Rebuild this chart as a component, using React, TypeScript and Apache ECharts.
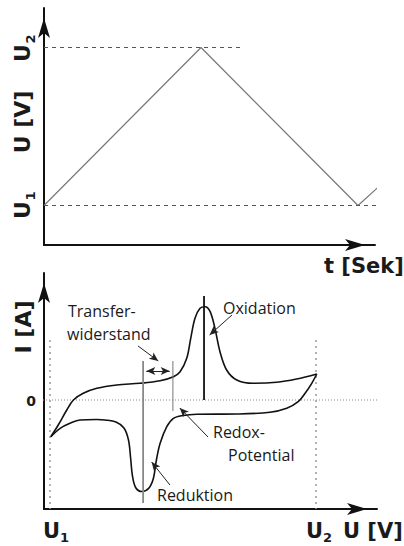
import React, { useEffect, useRef } from "react";
import * as echarts from "echarts";

// ---- Upper panel: triangular potential sweep U(t) ----
const sweepT = [0, 4, 8, 9];
const sweepU = [1, 5, 1, 1.9];
const levelU1 = 1;
const levelU2 = 5;
const guideU2End = 5.07;
const guideU1End = 8.74;

// ---- Lower panel: cyclic voltammogram, potential in V, current in µA ----
const forwardV = [
  -0.197, -0.169, -0.137, -0.112, -0.075, -0.024, 0.051, 0.138, 0.214, 0.264,
  0.289, 0.314, 0.329, 0.345, 0.364, 0.383, 0.402, 0.42, 0.439, 0.464, 0.502,
  0.564, 0.652, 0.727, 0.803,
];
const forwardI = [
  -3.67, -2.5, -1.0, 0.0, 0.67, 1.17, 1.5, 1.67, 1.93, 2.33, 2.83, 4.17, 6.17,
  8.17, 9.17, 9.33, 8.83, 7.17, 4.83, 3.0, 2.0, 1.67, 1.77, 2.1, 2.6,
];
const reverseV = [
  0.803, 0.784, 0.759, 0.733, 0.69, 0.627, 0.502, 0.352, 0.3, 0.264, 0.239,
  0.214, 0.2, 0.189, 0.172, 0.146, 0.123, 0.11, 0.103, 0.095, 0.078, 0.048,
  0.007, -0.024, -0.087, -0.125, -0.162, -0.197,
];
const reverseI = [
  2.6, 1.67, 0.67, -0.17, -0.83, -1.23, -1.4, -1.43, -1.55, -1.83, -2.67,
  -4.33, -6.0, -7.8, -8.8, -9.15, -8.8, -7.6, -5.8, -4.0, -2.8, -2.2, -2.0,
  -1.95, -2.0, -2.33, -2.83, -3.67,
];

// Scan limits and characteristic potentials
const scanU1 = -0.2;
const scanU2 = 0.8;
const reductionPeakV = 0.15;
const redoxV = 0.262;
const oxidationPeakV = 0.379;
const transferArrowI = 2.9;

const zip = (xs: number[], ys: number[]) => xs.map((x, i) => [x, ys[i]]);

const BOLD = 'bold 21px "DejaVu Sans"';
const BOLD_SUB = 'bold 13px "DejaVu Sans"';
const ROT = 'bold 22px "DejaVu Sans"';
const ROT_SUB = 'bold 13px "DejaVu Sans"';
const NOTE = '16px "Open Sans"';
const INK = "#1a1a1a";

const txt = (text: string, x: number, y: number, font: string, align = "left") => ({
  type: "text",
  x,
  y,
  silent: true,
  style: {
    text,
    font,
    fill: INK,
    align,
    verticalAlign: "middle",
    textAlign: align,
    textVerticalAlign: "middle",
  },
});

const rotated = (x: number, y: number, children: any[]) => ({
  type: "group",
  x,
  y,
  rotation: Math.PI / 2,
  children,
});

const axisLine = () => ({
  show: true,
  onZero: false,
  symbol: ["none", "arrow"],
  symbolSize: [9, 20],
  symbolOffset: [0, -10],
  lineStyle: { color: "#111", width: 2 },
});

const hiddenParts = {
  axisTick: { show: false },
  axisLabel: { show: false },
  splitLine: { show: false },
};

const plain = (data: number[][], color: string, width: number, type: any = "solid", extra: any = {}) => ({
  type: "line",
  data,
  symbol: "none",
  clip: false,
  silent: true,
  lineStyle: { color, width, type },
  ...extra,
});

export default function App() {
  const ref = useRef<HTMLDivElement>(null);

  useEffect(() => {
    if (!ref.current) return;
    const chart = echarts.init(ref.current, null, { renderer: "svg" });

    const arrowPair = (a: number[], b: number[], both = false) => [
      { coord: a, symbol: both ? "arrow" : "none" },
      { coord: b, symbol: "arrow" },
    ];

    chart.setOption({
      animation: false,
      backgroundColor: "#fff",
      grid: [
        { left: 44, top: 8, width: 331, height: 237, outerBoundsMode: "none", containLabel: false },
        { left: 44, top: 273, width: 333, height: 236, outerBoundsMode: "none", containLabel: false },
      ],
      xAxis: [
        { type: "value", gridIndex: 0, min: 0, max: 8.433, axisLine: axisLine(), ...hiddenParts },
        { type: "value", gridIndex: 1, min: -0.2226, max: 1.0293, axisLine: axisLine(), ...hiddenParts },
      ],
      yAxis: [
        { type: "value", gridIndex: 0, min: 0, max: 6, axisLine: axisLine(), ...hiddenParts },
        { type: "value", gridIndex: 1, min: -10.9, max: 12.7, axisLine: axisLine(), ...hiddenParts },
      ],
      series: [
        // potential sweep
        plain(zip(sweepT, sweepU), "#777", 1.2, "solid", { xAxisIndex: 0, yAxisIndex: 0 }),
        plain([[0, levelU2], [guideU2End, levelU2]], "#555", 1, [4, 4], { xAxisIndex: 0, yAxisIndex: 0 }),
        plain([[0, levelU1], [guideU1End, levelU1]], "#555", 1, [4, 4], { xAxisIndex: 0, yAxisIndex: 0 }),

        // guides of the voltammogram
        plain([[-0.2376, 0], [1.067, 0]], "#888", 1, [1, 2], { xAxisIndex: 1, yAxisIndex: 1 }),
        plain([[scanU1, 6.0], [scanU1, -10.9]], "#999", 1.5, [2, 4], { xAxisIndex: 1, yAxisIndex: 1 }),
        plain([[scanU2, 6.0], [scanU2, -10.9]], "#999", 1.5, [2, 4], { xAxisIndex: 1, yAxisIndex: 1 }),

        // current response
        plain(zip(forwardV, forwardI), "#111", 1.6, "solid", { xAxisIndex: 1, yAxisIndex: 1, smooth: 0.35 }),
        plain(zip(reverseV, reverseI), "#111", 1.6, "solid", { xAxisIndex: 1, yAxisIndex: 1, smooth: 0.35 }),

        // characteristic potentials
        plain([[reductionPeakV, 3.9], [reductionPeakV, -10.3]], "#888", 1.8, "solid", { xAxisIndex: 1, yAxisIndex: 1 }),
        plain([[redoxV, 3.9], [redoxV, -1.1]], "#777", 1, "solid", { xAxisIndex: 1, yAxisIndex: 1 }),
        plain([[oxidationPeakV, 10.4], [oxidationPeakV, 0]], "#111", 1.8, "solid", {
          xAxisIndex: 1,
          yAxisIndex: 1,
          markLine: {
            silent: true,
            animation: false,
            symbolSize: [6, 9],
            label: { show: false },
            emphasis: { disabled: true },
            lineStyle: { type: "solid", color: "#222", width: 1 },
            data: [
              arrowPair([reductionPeakV + 0.012, transferArrowI], [redoxV - 0.012, transferArrowI], true),
              arrowPair([0.131, 5.4], [0.207, 3.9]),
              arrowPair([0.484, 8.5], [0.4, 6.5]),
              arrowPair([0.394, -3.7], [0.288, -0.8]),
              arrowPair([0.251, -8.5], [0.182, -6.2]),
            ],
          },
        }),
      ],
      graphic: [
        // upper panel labels
        rotated(22, 53, [
          txt("U", 0, 0, ROT, "center"),
          txt("2", 14, 8, ROT_SUB, "center"),
        ]),
        rotated(22, 122, [txt("U [V]", 0, 0, ROT, "center")]),
        rotated(22, 210, [
          txt("U", 0, 0, ROT, "center"),
          txt("1", 14, 8, ROT_SUB, "center"),
        ]),
        txt("t [Sek]", 324, 266, BOLD),

        // lower panel labels
        rotated(23, 327, [txt("I [A]", 0, 0, ROT, "center")]),
        txt("0", 31, 401, 'bold 14px "DejaVu Sans"', "center"),
        txt("U", 43, 531, BOLD),
        txt("1", 60, 537, BOLD_SUB),
        txt("U", 306, 531, BOLD),
        txt("2", 323, 537, BOLD_SUB),
        txt("U [V]", 343, 531, BOLD),

        // annotations
        txt("Transfer-", 68, 311, NOTE),
        txt("widerstand", 67, 334, NOTE),
        txt("Oxidation", 223, 308, NOTE),
        txt("Redox-", 213, 432, NOTE),
        txt("Potential", 228, 455, NOTE),
        txt("Reduktion", 157, 495, NOTE),
      ],
    });

    return () => chart.dispose();
  }, []);

  return (
    <div
      ref={ref}
      style={{ position: "fixed", left: 0, top: 0, width: 404, height: 546, background: "#fff" }}
    />
  );
}
